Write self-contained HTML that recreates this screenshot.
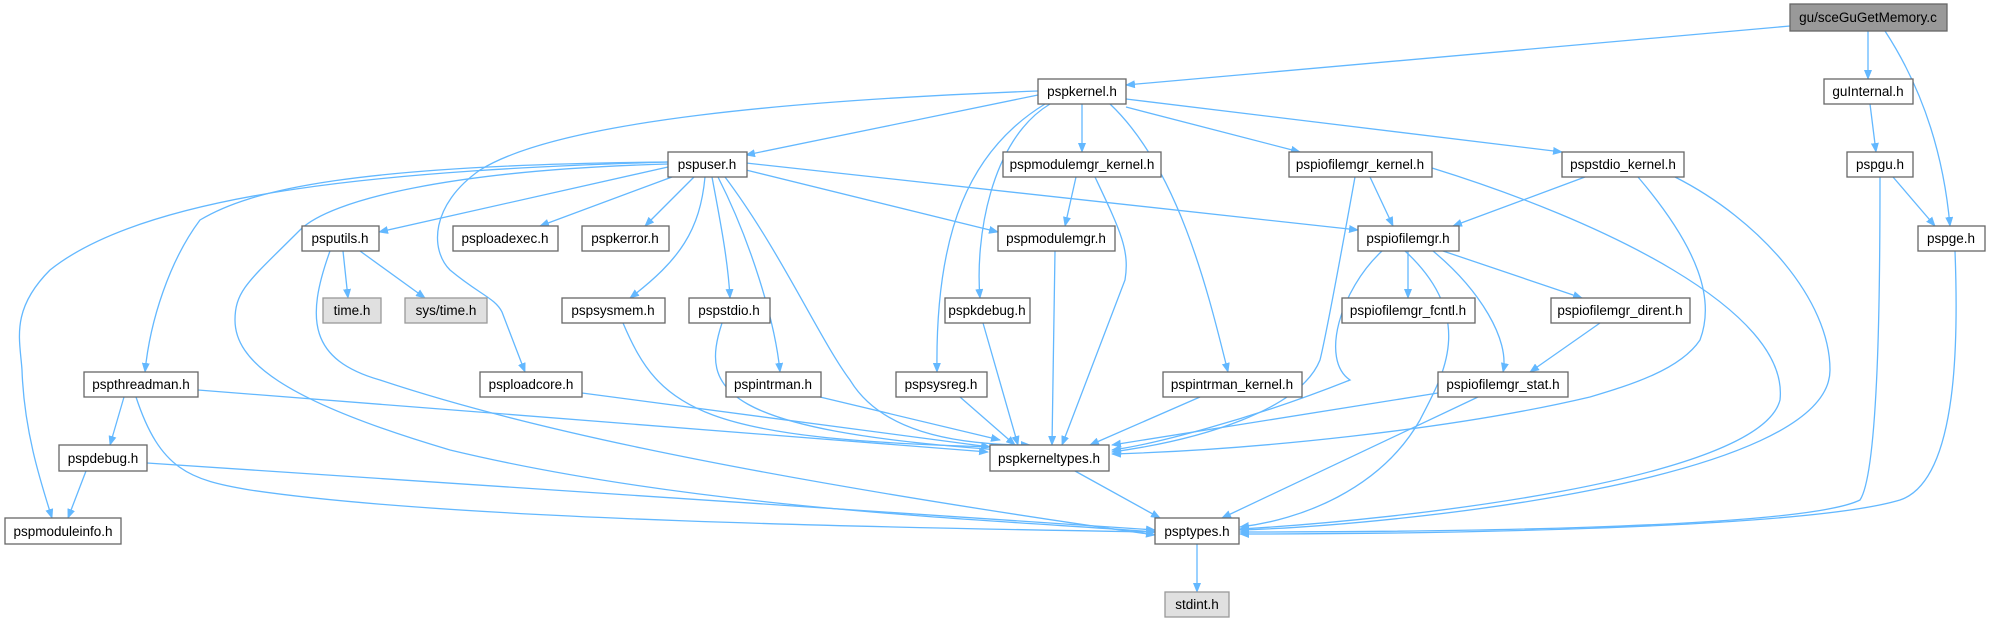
<!DOCTYPE html>
<html><head><meta charset="utf-8"><style>
html,body{margin:0;padding:0;background:#fff;width:1990px;height:623px;overflow:hidden}
svg{display:block}
text{font-family:"Liberation Sans",Arial,sans-serif;font-size:13.5px;fill:#000;text-anchor:middle}
.e{fill:none;stroke:#63b8ff;stroke-width:1.3}
.n rect{fill:#fff;stroke:#666;stroke-width:1.3}
.g rect{fill:#e0e0e0;stroke:#999;stroke-width:1.3}
.m rect{fill:#999;stroke:#666;stroke-width:1.3}
</style></head><body>
<svg width="1990" height="623" viewBox="0 0 1990 623" xmlns="http://www.w3.org/2000/svg">
<defs><marker id="a" markerWidth="10" markerHeight="8" refX="9" refY="4" orient="auto" markerUnits="userSpaceOnUse"><path d="M0,0 L10,4 L0,8 z" fill="#63b8ff"/></marker></defs>
<g marker-end="url(#a)">
<path class="e" d="M1790,26 L1126,85"/>
<path class="e" d="M1868,31 L1868,79"/>
<path class="e" d="M1885,31 C1930,100 1945,170 1950,226"/>
<path class="e" d="M1870,104 L1876,152"/>
<path class="e" d="M1893,177 L1935,226"/>
<path class="e" d="M1880,177 C1880,260 1880,470 1860,500 C1800,530 1400,532 1240,532"/>
<path class="e" d="M1955,251 C1958,330 1960,480 1900,500 C1800,530 1400,534 1240,534"/>
<path class="e" d="M1038,95 L746,155"/>
<path class="e" d="M1038,91 C800,100 560,120 480,170 C430,205 430,250 450,270 C480,295 495,298 502,312 L525,372"/>
<path class="e" d="M1045,104 C970,150 935,230 937,372"/>
<path class="e" d="M1050,104 C990,140 975,240 980,298"/>
<path class="e" d="M1082,104 L1082,152"/>
<path class="e" d="M1110,104 C1180,170 1210,300 1228,372"/>
<path class="e" d="M1126,107 L1300,152"/>
<path class="e" d="M1126,99 L1562,152"/>
<path class="e" d="M1076,177 L1065,226"/>
<path class="e" d="M1095,177 C1120,230 1130,250 1125,280 L1062,445"/>
<path class="e" d="M1370,177 L1393,226"/>
<path class="e" d="M1355,177 C1340,260 1325,340 1320,360 C1300,410 1200,440 1112,452"/>
<path class="e" d="M1432,168 C1600,220 1790,310 1780,400 C1760,480 1400,520 1240,529"/>
<path class="e" d="M1585,177 L1453,226"/>
<path class="e" d="M1638,177 C1700,250 1715,300 1700,340 C1680,370 1630,385 1590,397 C1450,430 1250,450 1112,454"/>
<path class="e" d="M1675,177 C1760,220 1830,300 1830,370 C1830,480 1400,525 1240,530"/>
<path class="e" d="M668,167 L379,232"/>
<path class="e" d="M672,177 L540,226"/>
<path class="e" d="M694,177 L645,226"/>
<path class="e" d="M705,177 C700,230 680,260 630,298"/>
<path class="e" d="M712,177 C720,220 728,260 730,298"/>
<path class="e" d="M718,177 C750,240 775,320 780,372"/>
<path class="e" d="M725,177 C780,250 820,340 850,380 C880,430 950,445 1030,445"/>
<path class="e" d="M746,170 L998,232"/>
<path class="e" d="M746,163 L1358,230"/>
<path class="e" d="M668,162 C400,170 150,190 50,270 C10,310 20,340 22,370 C24,430 40,480 52,518"/>
<path class="e" d="M668,162 C350,165 250,190 200,220 C170,260 150,320 145,372"/>
<path class="e" d="M668,164 C450,170 330,200 300,230 C250,280 235,290 235,320 C235,360 280,400 450,450 C700,510 1000,520 1155,532"/>
<path class="e" d="M343,251 L348,298"/>
<path class="e" d="M360,251 L425,298"/>
<path class="e" d="M330,251 C305,320 310,360 380,380 C500,420 700,470 1155,535"/>
<path class="e" d="M623,323 C660,410 700,440 1000,447"/>
<path class="e" d="M722,323 C700,390 720,430 1000,450"/>
<path class="e" d="M820,397 L1000,440"/>
<path class="e" d="M582,393 L990,447"/>
<path class="e" d="M960,397 L1015,445"/>
<path class="e" d="M983,323 L1018,445"/>
<path class="e" d="M1055,251 L1052,445"/>
<path class="e" d="M1200,397 L1090,445"/>
<path class="e" d="M1408,251 L1408,298"/>
<path class="e" d="M1443,251 L1582,298"/>
<path class="e" d="M1433,251 C1480,290 1510,340 1503,372"/>
<path class="e" d="M1382,251 C1340,290 1320,360 1350,380 C1250,420 1150,445 1112,450"/>
<path class="e" d="M1405,251 C1480,320 1440,380 1420,420 C1380,490 1300,520 1240,527"/>
<path class="e" d="M1600,323 L1530,372"/>
<path class="e" d="M1438,393 L1112,445"/>
<path class="e" d="M1478,397 L1222,518"/>
<path class="e" d="M124,397 L110,445"/>
<path class="e" d="M198,390 L988,452"/>
<path class="e" d="M136,397 C160,470 190,480 250,490 C450,520 900,528 1155,532"/>
<path class="e" d="M86,471 L68,518"/>
<path class="e" d="M147,463 L1155,530"/>
<path class="e" d="M1075,471 L1160,518"/>
<path class="e" d="M1197,544 L1197,592"/>
</g>
<g class="m"><rect x="1790" y="4" width="157" height="27"/><text x="1868" y="22">gu/sceGuGetMemory.c</text></g>
<g class="n"><rect x="1038" y="79" width="88" height="25"/><text x="1082" y="96">pspkernel.h</text></g>
<g class="n"><rect x="1824" y="79" width="89" height="25"/><text x="1868" y="96">guInternal.h</text></g>
<g class="n"><rect x="668" y="152" width="79" height="25"/><text x="707" y="169">pspuser.h</text></g>
<g class="n"><rect x="1003" y="152" width="158" height="25"/><text x="1082" y="169">pspmodulemgr_kernel.h</text></g>
<g class="n"><rect x="1289" y="152" width="143" height="25"/><text x="1360" y="169">pspiofilemgr_kernel.h</text></g>
<g class="n"><rect x="1562" y="152" width="122" height="25"/><text x="1623" y="169">pspstdio_kernel.h</text></g>
<g class="n"><rect x="1847" y="152" width="66" height="25"/><text x="1880" y="169">pspgu.h</text></g>
<g class="n"><rect x="302" y="226" width="77" height="25"/><text x="340" y="243">psputils.h</text></g>
<g class="n"><rect x="453" y="226" width="105" height="25"/><text x="505" y="243">psploadexec.h</text></g>
<g class="n"><rect x="582" y="226" width="87" height="25"/><text x="625" y="243">pspkerror.h</text></g>
<g class="n"><rect x="998" y="226" width="117" height="25"/><text x="1056" y="243">pspmodulemgr.h</text></g>
<g class="n"><rect x="1358" y="226" width="101" height="25"/><text x="1408" y="243">pspiofilemgr.h</text></g>
<g class="n"><rect x="1918" y="226" width="67" height="25"/><text x="1951" y="243">pspge.h</text></g>
<g class="g"><rect x="323" y="298" width="58" height="25"/><text x="352" y="315">time.h</text></g>
<g class="g"><rect x="405" y="298" width="82" height="25"/><text x="446" y="315">sys/time.h</text></g>
<g class="n"><rect x="562" y="298" width="103" height="25"/><text x="613" y="315">pspsysmem.h</text></g>
<g class="n"><rect x="689" y="298" width="81" height="25"/><text x="729" y="315">pspstdio.h</text></g>
<g class="n"><rect x="945" y="298" width="85" height="25"/><text x="987" y="315">pspkdebug.h</text></g>
<g class="n"><rect x="1342" y="298" width="133" height="25"/><text x="1408" y="315">pspiofilemgr_fcntl.h</text></g>
<g class="n"><rect x="1551" y="298" width="139" height="25"/><text x="1620" y="315">pspiofilemgr_dirent.h</text></g>
<g class="n"><rect x="84" y="372" width="114" height="25"/><text x="141" y="389">pspthreadman.h</text></g>
<g class="n"><rect x="480" y="372" width="102" height="25"/><text x="531" y="389">psploadcore.h</text></g>
<g class="n"><rect x="726" y="372" width="95" height="25"/><text x="773" y="389">pspintrman.h</text></g>
<g class="n"><rect x="896" y="372" width="91" height="25"/><text x="941" y="389">pspsysreg.h</text></g>
<g class="n"><rect x="1163" y="372" width="139" height="25"/><text x="1232" y="389">pspintrman_kernel.h</text></g>
<g class="n"><rect x="1438" y="372" width="130" height="25"/><text x="1503" y="389">pspiofilemgr_stat.h</text></g>
<g class="n"><rect x="59" y="445" width="88" height="26"/><text x="103" y="463">pspdebug.h</text></g>
<g class="n"><rect x="990" y="445" width="119" height="26"/><text x="1049" y="463">pspkerneltypes.h</text></g>
<g class="n"><rect x="5" y="518" width="116" height="26"/><text x="63" y="536">pspmoduleinfo.h</text></g>
<g class="n"><rect x="1155" y="518" width="84" height="26"/><text x="1197" y="536">psptypes.h</text></g>
<g class="g"><rect x="1165" y="592" width="64" height="25"/><text x="1197" y="609">stdint.h</text></g>
</svg>
</body></html>
